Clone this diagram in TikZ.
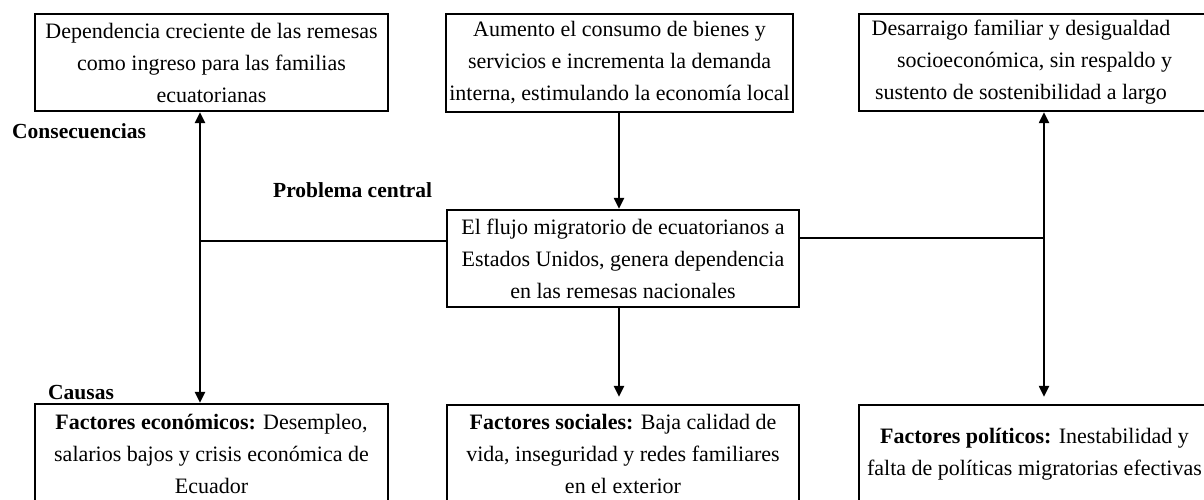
\documentclass[tikz,border=0pt]{standalone}
\usepackage{fontspec}
\setmainfont{Liberation Serif}
\usetikzlibrary{arrows.meta,calc}
\newcommand{\padR}{\hspace*{27pt}}
\begin{document}
\begin{tikzpicture}[x=1pt,y=-1pt,
  box/.style={draw, line width=2.3pt, align=center, inner sep=0pt,
    font=\fontsize{22}{32}\selectfont},
  lbl/.style={font=\bfseries\fontsize{21.5}{24}\selectfont, inner sep=0pt, anchor=west},
  conn/.style={line width=2.2pt},
  tip/.tip={Triangle[length=11pt,width=10pt]}]
\useasboundingbox (0,0) rectangle (1204,500);

% consequences
\node[box, minimum width=353pt, minimum height=97pt] (tl) at (211.5,62.5)
  {Dependencia creciente de las remesas\\como ingreso para las familias\\ecuatorianas};
\node[box, minimum width=347pt, minimum height=98pt] (tm) at (619.5,63)
  {Aumento el consumo de bienes y\\servicios e incrementa la demanda\\interna, estimulando la economía local};
\node[box, minimum width=351pt, minimum height=97pt] (tr) at (1034.5,62.5)
  {Desarraigo familiar y desigualdad\padR\\socioeconómica, sin respaldo y\padR\\sustento de sostenibilidad a largo\padR};

% central problem
\node[box, minimum width=352pt, minimum height=97pt] (c) at (623,258.5)
  {El flujo migratorio de ecuatorianos a\\Estados Unidos, genera dependencia\\en las remesas nacionales};

% causes
\node[box, minimum width=353pt, minimum height=99pt] (bl) at (211.5,453.5)
  {\textbf{Factores económicos:} Desempleo,\\salarios bajos y crisis económica de\\Ecuador};
\node[box, minimum width=352pt, minimum height=98pt] (bm) at (623,454)
  {\textbf{Factores sociales:} Baja calidad de\\vida, inseguridad y redes familiares\\en el exterior};
\node[box, minimum width=351pt, minimum height=98pt] (br) at (1034.5,454)
  {\textbf{Factores políticos:} Inestabilidad y\\falta de políticas migratorias efectivas};

% labels
\node[lbl] (lc) at (12,131) {Consecuencias};
\node[lbl] (lp) at (273,190) {Problema central};
\node[lbl] (lk) at (48,393) {Causas};

% junctions
\coordinate (jl) at (200,241);
\coordinate (jr) at (1044,238);
\coordinate (jm) at (619,258);

% connectors
\draw[conn, tip-tip] (jl |- tl.south) -- (jl |- bl.north);
\draw[conn] (jl) -- (c.west |- jl);
\draw[conn] (c.east |- jr) -- (jr);
\draw[conn, tip-tip, shorten >=7pt] (jr |- tr.south) -- (jr |- br.north);
\draw[conn, -tip] (jm |- tm.south) -- (jm |- c.north);
\draw[conn, -tip, shorten >=7pt] (jm |- c.south) -- (jm |- bm.north);
\end{tikzpicture}
\end{document}
